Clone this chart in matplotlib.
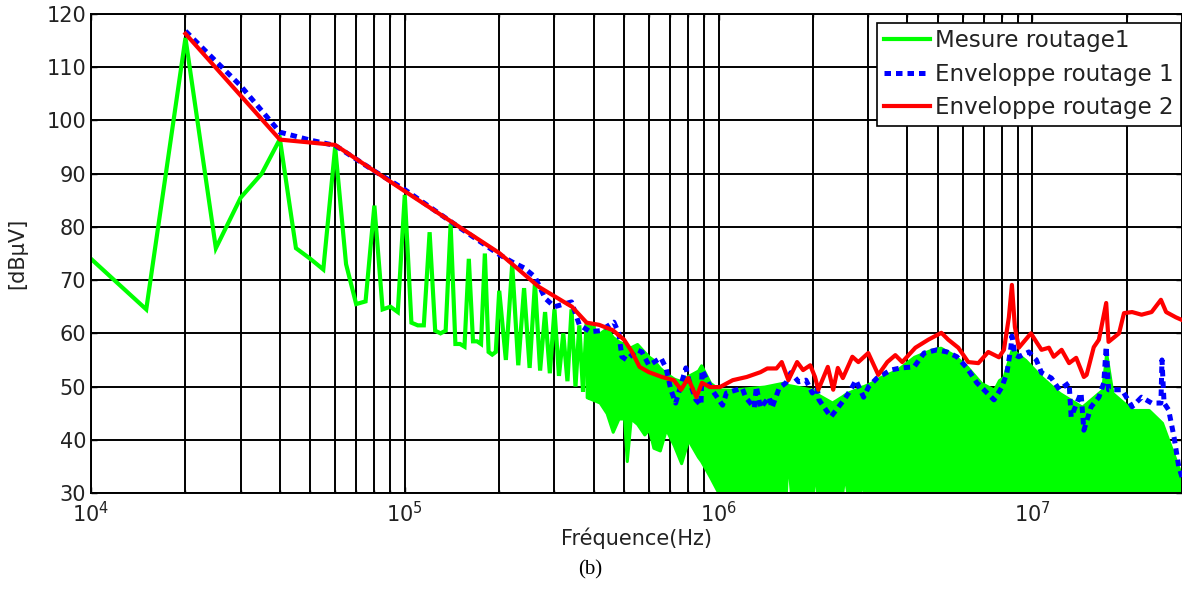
import matplotlib
matplotlib.use("Agg")
import matplotlib.pyplot as plt
from matplotlib.ticker import LogLocator, NullFormatter, LogFormatterSciNotation

# ---------------- data ----------------
# Measured spectrum, low-frequency part (distinct harmonics)
meas_f = [1.0e4, 1.5e4, 2.0e4, 2.5e4, 3.0e4, 3.5e4, 4.0e4, 4.5e4, 5.0e4, 5.5e4,
          6.0e4, 6.5e4, 7.0e4, 7.5e4, 8.0e4, 8.5e4, 9.0e4, 9.5e4, 1.0e5, 1.05e5,
          1.1e5, 1.15e5, 1.2e5, 1.25e5, 1.3e5, 1.35e5, 1.4e5, 1.45e5, 1.5e5, 1.55e5,
          1.6e5, 1.65e5, 1.7e5, 1.75e5, 1.8e5, 1.85e5, 1.9e5, 1.95e5, 2.0e5, 2.1e5,
          2.2e5, 2.3e5, 2.4e5, 2.5e5, 2.6e5, 2.7e5, 2.8e5, 2.9e5, 3.0e5, 3.1e5,
          3.2e5, 3.3e5, 3.4e5, 3.5e5, 3.6e5, 3.7e5, 3.8e5, 3.9e5, 4.0e5]
meas_v = [74, 64.5, 115.5, 76, 85.5, 90, 96.5, 76, 74, 72,
          95, 73, 65.5, 66, 84, 64.5, 65, 64, 86, 62,
          61.5, 61.5, 79, 60.5, 60, 60.5, 80.5, 58, 58, 57.5,
          74, 58.5, 58.5, 58, 75, 56.5, 56, 56.5, 68, 55,
          73, 54, 68.5, 53.5, 69.5, 53, 64, 52.5, 64.5, 52,
          60, 51, 64.5, 50, 61.5, 49, 62, 47.5, 61]

# Measured spectrum, dense high-frequency part (upper / lower extent of the trace)
band_f = [3.8e5, 4.18e5, 4.4e5, 4.6e5, 4.8e5, 5.0e5, 5.1e5, 5.25e5, 5.5e5, 5.8e5,
          6.0e5, 6.2e5, 6.5e5, 6.8e5, 7.2e5, 7.6e5, 8.0e5, 8.6e5, 8.8e5, 9.4e5,
          1.0e6, 1.1e6, 1.4e6, 1.6e6, 1.64e6, 1.66e6, 1.7e6, 2.0e6, 2.03e6, 2.06e6,
          2.3e6, 2.48e6, 2.52e6, 2.57e6, 2.82e6, 2.86e6, 2.9e6, 3.06e6, 3.29e6, 3.7e6,
          4.2e6, 4.75e6, 5.1e6, 5.6e6, 6.2e6, 6.86e6, 7.55e6, 7.83e6, 8.1e6, 8.6e6,
          9.5e6, 1.07e7, 1.22e7, 1.44e7, 1.67e7, 1.72e7, 1.8e7, 2.08e7, 2.35e7, 2.59e7,
          2.79e7, 3.0e7]
band_hi = [62, 60, 61, 59.3, 58.5, 58, 57.5, 57.4, 58, 56.5,
           55.6, 55, 53.5, 52.5, 51.5, 51, 52, 53, 54, 50.7,
           49.5, 49.4, 50, 50.7, 50.5, 50.3, 50.2, 49.4, 49, 48.6,
           47, 48.2, 48.5, 48.8, 49.8, 50, 50.1, 50.7, 51.8, 53.1,
           55.6, 56.9, 57.3, 56, 53.7, 50.7, 49.4, 51.2, 51.8, 57,
           55, 51.8, 48.8, 46.2, 49.4, 56.3, 48.8, 45.6, 45.6, 43.2,
           38, 33]
band_lo = [48, 47, 45, 41.5, 44, 44, 36, 44, 43, 41,
           42, 38.5, 38, 42, 39, 35.6, 40, 36.8, 36, 33,
           30, 30, 30, 30, 30, 37.5, 30, 30, 35.6, 30,
           30, 30, 34, 30, 30, 33, 30, 30, 30, 30,
           30, 30, 30, 30, 30, 30, 30, 30, 30, 30,
           30, 30, 30, 30, 30, 30, 30, 30, 30, 30,
           30, 30]

# Envelope, routing 1
env1_f = [2e4, 3e4, 4e4, 5e4, 6e4, 8e4, 1e5, 1.5e5, 2e5, 2.2e5,
          2.4e5, 2.6e5, 2.8e5, 3e5, 3.4e5, 3.6e5, 3.9e5, 4.2e5, 4.64e5, 4.81e5,
          4.92e5, 5.1e5, 5.5e5, 5.7e5, 6.0e5, 6.55e5, 6.8e5, 7.05e5, 7.3e5, 7.87e5,
          8.05e5, 8.47e5, 8.79e5, 8.86e5, 9.53e5, 1.03e6, 1.06e6, 1.19e6, 1.22e6, 1.3e6,
          1.32e6, 1.36e6, 1.45e6, 1.48e6, 1.56e6, 1.64e6, 1.7e6, 1.8e6, 1.9e6, 1.99e6,
          2.06e6, 2.09e6, 2.28e6, 2.51e6, 2.64e6, 2.74e6, 2.9e6, 3.01e6, 3.2e6, 3.54e6,
          3.81e6, 4.2e6, 4.52e6, 4.97e6, 5.35e6, 5.75e6, 6.19e6, 6.66e6, 7.01e6, 7.55e6,
          8.0e6, 8.3e6, 8.55e6, 8.61e6, 8.8e6, 9.06e6, 9.75e6, 1.03e7, 1.07e7, 1.15e7,
          1.22e7, 1.31e7, 1.33e7, 1.43e7, 1.46e7, 1.54e7, 1.63e7, 1.69e7, 1.72e7, 1.75e7,
          1.93e7, 2.08e7, 2.23e7, 2.4e7, 2.57e7, 2.59e7, 2.63e7, 2.72e7, 2.83e7, 2.93e7,
          3.0e7]
env1_v = [116.8, 106.5, 97.8, 96.3, 95.3, 90.5, 87, 79.8, 74.8, 73.4,
          72.3, 70.6, 66.6, 65, 65.9, 61.6, 60.3, 60.5, 62.1, 60,
          55.6, 55, 56.9, 56.5, 54, 55.4, 53.5, 49.4, 46.9, 53.5,
          51.2, 47.5, 46.5, 53.1, 49.4, 46.5, 48.8, 49.7, 48, 46,
          50, 46, 48, 46, 49.7, 50.7, 52.6, 50.9, 51.2, 48.8,
          49.9, 47.5, 44.3, 47.5, 49.4, 51.2, 48, 50, 51.6, 53.1,
          53.5, 53.7, 56.3, 56.9, 56.5, 55.6, 53.5, 50.7, 49.4, 47.5,
          49.9, 52.6, 57.4, 59.5, 56, 55.6, 56.5, 55, 52.6, 51.6,
          49.4, 50.7, 44.3, 48.8, 41.8, 46.2, 48, 50.7, 57.5, 49.4,
          49.4, 46.2, 48, 46.9, 46.9, 55, 46.9, 45.6, 40.5, 34.9,
          33]

# Envelope, routing 2
env2_f = [2e4, 4e4, 6e4, 1e5, 2e5, 2.68e5, 3.41e5, 3.8e5, 4.16e5, 4.6e5,
          5.0e5, 5.3e5, 5.6e5, 6.0e5, 6.6e5, 7.2e5, 7.6e5, 8.0e5, 8.5e5, 8.85e5,
          9.4e5, 1.01e6, 1.11e6, 1.23e6, 1.36e6, 1.43e6, 1.53e6, 1.59e6, 1.67e6, 1.78e6,
          1.86e6, 1.96e6, 2.03e6, 2.08e6, 2.23e6, 2.32e6, 2.4e6, 2.49e6, 2.67e6, 2.79e6,
          3.0e6, 3.23e6, 3.45e6, 3.66e6, 3.85e6, 4.24e6, 4.66e6, 5.13e6, 5.4e6, 5.81e6,
          6.25e6, 6.73e6, 7.24e6, 7.83e6, 8.12e6, 8.42e6, 8.61e6, 8.8e6, 9.06e6, 9.9e6,
          1.03e7, 1.07e7, 1.13e7, 1.17e7, 1.24e7, 1.31e7, 1.38e7, 1.46e7, 1.49e7, 1.57e7,
          1.63e7, 1.72e7, 1.75e7, 1.89e7, 1.96e7, 2.08e7, 2.23e7, 2.4e7, 2.57e7, 2.67e7,
          2.87e7, 3.0e7]
env2_v = [116.3, 96.4, 95.4, 86.7, 75.1, 68.7, 65, 62, 61.6, 60.6,
          58.8, 56.5, 53.7, 52.7, 51.8, 51.2, 49.4, 51.6, 48, 50.7,
          49.9, 49.9, 51.2, 51.8, 52.7, 53.4, 53.4, 54.6, 51.2, 54.6,
          53.1, 54, 51.8, 49.4, 53.7, 49.4, 53.5, 51.6, 55.6, 54.6,
          56.3, 52.2, 54.6, 55.9, 54.6, 57.3, 58.8, 60.1, 58.8, 57.3,
          54.6, 54.4, 56.5, 55.5, 56.9, 63, 69.1, 61.2, 57.3, 60,
          58.4, 56.9, 57.3, 55.6, 56.9, 54.4, 55.4, 51.8, 52.2, 57.4,
          58.8, 65.7, 58.4, 60, 63.8, 64, 63.5, 64, 66.3, 64,
          63, 62.5]

labels = ["Mesure routage1", "Enveloppe routage 1", "Enveloppe routage 2"]
y_ticks = [30, 40, 50, 60, 70, 80, 90, 100, 110, 120]

# ---------------- figure ----------------
fig = plt.figure(figsize=(11.82, 5.90), dpi=100)
ax = fig.add_axes([91 / 1182, 97 / 590, 1 - 91 / 1182, 479 / 590])

GREEN, BLUE, RED = "#00ff00", "#0000ff", "#ff0000"

ax.fill_between(band_f, band_lo, band_hi, color=GREEN, lw=2.2, edgecolor=GREEN, zorder=2)
l1, = ax.plot(meas_f, meas_v, color=GREEN, lw=3, zorder=2.1, solid_joinstyle="miter")
l2, = ax.plot(env1_f, env1_v, color=BLUE, lw=3.6, linestyle=(0, (1.3, 1.0)),
              dash_capstyle="butt", zorder=3)
l3, = ax.plot(env2_f, env2_v, color=RED, lw=3, zorder=4)

ax.set_xscale("log")
ax.set_xlim(1e4, 3e7)
ax.set_ylim(30, 120)
ax.set_yticks(y_ticks)

ax.xaxis.set_major_locator(LogLocator(base=10, numticks=10))
ax.xaxis.set_minor_locator(LogLocator(base=10, subs=range(2, 10), numticks=50))
ax.xaxis.set_minor_formatter(NullFormatter())
ax.xaxis.set_major_formatter(LogFormatterSciNotation())

ax.set_axisbelow(True)
ax.grid(True, which="major", axis="both", color="black", lw=1.4, ls="-")
ax.grid(True, which="minor", axis="x", color="black", lw=1.4, ls="-")

ax.tick_params(axis="both", which="both", direction="in", top=True, right=True,
               labelsize=15, colors="black", labelcolor="#222222")
ax.tick_params(axis="both", which="major", length=4, width=1)
ax.tick_params(axis="both", which="minor", length=2, width=1)
ax.tick_params(axis="x", pad=6)
for s in ax.spines.values():
    s.set_linewidth(1.4)
    s.set_color("black")

ax.set_xlabel("Fréquence(Hz)", fontsize=15, color="#222222", labelpad=1)
ax.set_ylabel("[dBµV]", fontsize=15, color="#222222", labelpad=14)

leg = ax.legend([l1, l2, l3], labels, loc="upper right",
                bbox_to_anchor=(0.999, 0.982), fontsize=16.5, frameon=True,
                fancybox=False, framealpha=1, edgecolor="black",
                handlelength=2.0, handletextpad=0.25, labelspacing=0.45,
                borderpad=0.3, borderaxespad=0.0)
leg.get_frame().set_linewidth(1.2)
for t in leg.get_texts():
    t.set_color("#222222")

fig.text(590 / 1182, 1 - 570 / 590, "(b)", ha="center", va="center",
         fontsize=15, family="Liberation Serif", color="black")

fig.savefig("out.png", dpi=100)
